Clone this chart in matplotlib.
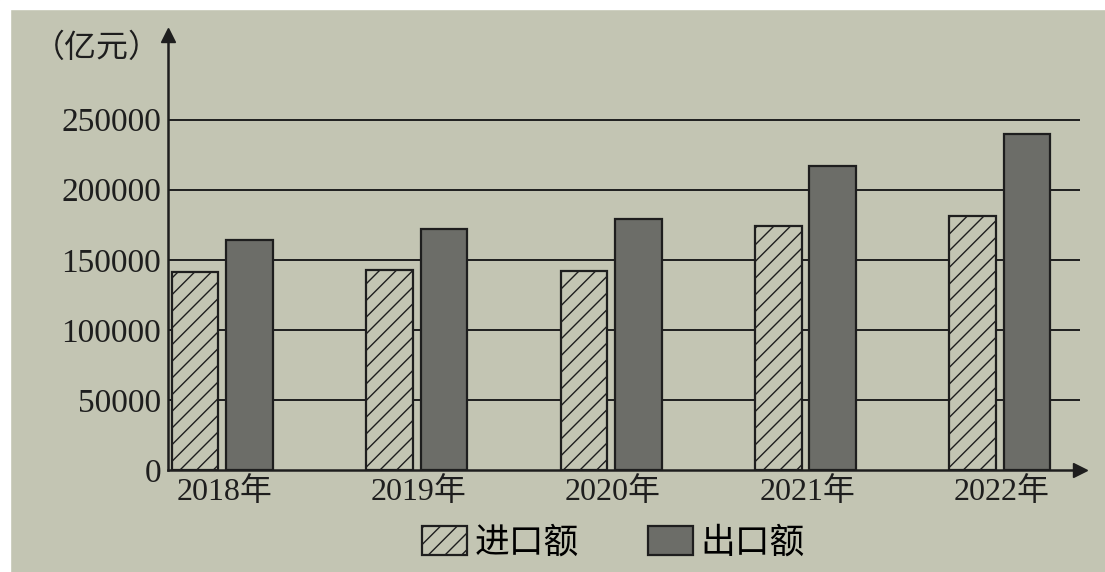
import matplotlib.pyplot as plt
import numpy as np
from matplotlib.patches import Patch, Rectangle

# data (亿元)
years = ['2018年', '2019年', '2020年', '2021年', '2022年']
imports = [141000, 143000, 142000, 174000, 181000]
exports = [164000, 172000, 179000, 217000, 240000]
yticks = [0, 50000, 100000, 150000, 200000, 250000]

bg = '#c3c5b3'
ink = '#1e1e1e'
bar_dark = '#6c6d68'

plt.rcParams['hatch.linewidth'] = 1.0
plt.rcParams['hatch.color'] = ink

fig = plt.figure(figsize=(11.05, 5.72), dpi=100, facecolor=bg)
ax = fig.add_axes([0.152, 0.178, 0.825, 0.76], facecolor=bg)

# white photo border on the top and left edges
fig.patches.append(Rectangle((0, 0.985), 1, 0.015, transform=fig.transFigure, color='white', zorder=0))
fig.patches.append(Rectangle((0, 0), 0.009, 1, transform=fig.transFigure, color='white', zorder=0))

x = np.arange(len(years))
w = 0.24
ax.bar(x - 0.15, imports, w, facecolor=bg, edgecolor=ink, hatch='//', linewidth=1.6, zorder=3)
ax.bar(x + 0.13, exports, w, facecolor=bar_dark, edgecolor=ink, linewidth=1.6, zorder=3)

ax.set_xlim(-0.29, 4.4)
ax.set_ylim(0, 310000)

# horizontal grid lines behind the bars
for v in yticks[1:]:
    ax.axhline(v, color=ink, linewidth=1.4, zorder=1)

ax.spines['top'].set_visible(False)
ax.spines['right'].set_visible(False)
ax.spines['left'].set_linewidth(1.8)
ax.spines['bottom'].set_linewidth(1.8)
ax.spines['left'].set_color(ink)
ax.spines['bottom'].set_color(ink)

# arrow heads at the axis ends
ax.plot(1, 0, '>', color=ink, markersize=10, transform=ax.transAxes, clip_on=False)
ax.plot(0, 1, '^', color=ink, markersize=10, transform=ax.transAxes, clip_on=False)

ax.set_yticks(yticks)
ax.set_yticklabels([str(v) for v in yticks], family=['Liberation Serif'], fontsize=24, color=ink)
ax.set_xticks(x)
ax.set_xticklabels(years, family=['Liberation Serif', 'Noto Sans CJK SC'], fontsize=23, color=ink)
ax.tick_params(axis='both', length=0, pad=5)

fig.text(0.03, 0.9, '（亿元）', family=['Noto Sans CJK SC'], fontsize=23, color=ink)

handles = [Patch(facecolor=bg, edgecolor=ink, hatch='//', linewidth=1.6),
           Patch(facecolor=bar_dark, edgecolor=ink, linewidth=1.6)]
fig.legend(handles, ['进口额', '出口额'], loc='lower center', bbox_to_anchor=(0.555, -0.035),
           ncol=2, frameon=False, prop={'family': 'Noto Sans CJK SC', 'size': 25},
           handlelength=1.3, handleheight=0.9, handletextpad=0.2, columnspacing=2.0)

fig.savefig('out.png', dpi=100, facecolor=bg)
